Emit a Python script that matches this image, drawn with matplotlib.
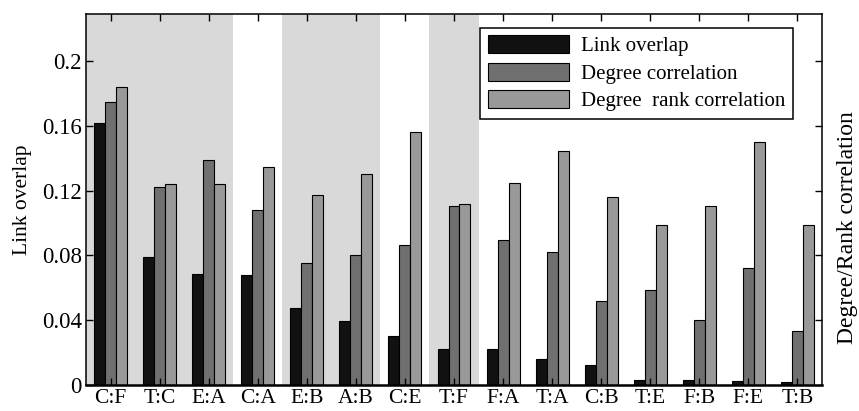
import matplotlib
matplotlib.use("Agg")
import matplotlib.pyplot as plt
import numpy as np

categories = ["C:F", "T:C", "E:A", "C:A", "E:B", "A:B", "C:E", "T:F",
              "F:A", "T:A", "C:B", "T:E", "F:B", "F:E", "T:B"]
link_overlap = [0.162, 0.0793, 0.0684, 0.0679, 0.0473, 0.0394, 0.0305, 0.0224,
                0.0224, 0.0158, 0.0123, 0.0032, 0.0028, 0.0024, 0.0016]
degree_corr = [0.1744, 0.1221, 0.1388, 0.1078, 0.075, 0.080, 0.0867, 0.1107,
               0.0898, 0.0822, 0.052, 0.0588, 0.0404, 0.0723, 0.0334]
rank_corr = [0.1837, 0.1242, 0.1242, 0.1347, 0.117, 0.130, 0.1564, 0.1115,
             0.1248, 0.1444, 0.1159, 0.0987, 0.1105, 0.150, 0.099]
shaded = [(0, 2), (4, 5), (7, 7)]  # index ranges of shaded groups
yticks = [0, 0.04, 0.08, 0.12, 0.16, 0.2]
ytick_labels = ["0", "0.04", "0.08", "0.12", "0.16", "0.2"]

plt.rcParams['font.family'] = ['Liberation Serif', 'DejaVu Serif']

W, H = 859, 411
fig = plt.figure(figsize=(W / 100, H / 100), dpi=100)
L, R, T, B = 86, 822, 14, 385
ax = fig.add_axes([L / W, 1 - B / H, (R - L) / W, (B - T) / H])

x = np.arange(len(categories))
w = 0.224
for a, b in shaded:
    ax.axvspan(a - 0.5, b + 0.5, color="#d9d9d9", zorder=0, lw=0)

kw = dict(edgecolor="black", linewidth=0.8, zorder=1)
ax.bar(x - w, link_overlap, w, color="#111111", label="Link overlap", **kw)
ax.bar(x, degree_corr, w, color="#707070", label="Degree correlation", **kw)
ax.bar(x + w, rank_corr, w, color="#999999", label="Degree  rank correlation", **kw)

ax.set_xlim(-0.5, len(categories) - 0.5)
ax.set_ylim(0, 0.229)
ax.set_xticks(x)
ax.set_xticklabels(categories, fontsize=15.5)
ax.set_yticks(yticks)
ax.set_yticklabels(ytick_labels, fontsize=16.5)
ax.tick_params(direction="in", top=True, right=True, length=5, width=1.0)
ax.tick_params(axis="y", pad=3)
ax.tick_params(axis="x", pad=3)
for s in ax.spines.values():
    s.set_linewidth(1.1)
ax.spines["bottom"].set_linewidth(1.8)

ax.set_ylabel("Link overlap", fontsize=15.5, labelpad=7)
fig.text(848 / W, 1 - 228 / H, "Degree/Rank correlation", rotation=90,
         ha="center", va="center", fontsize=17)

leg = ax.legend(loc="upper right", bbox_to_anchor=(1 - 29 / (R - L), 1 - 14 / (B - T)),
                fontsize=15, frameon=True, fancybox=False, framealpha=1,
                edgecolor="black", handlelength=3.9, handleheight=0.95,
                labelspacing=0.3, borderaxespad=0, handletextpad=0.6,
                borderpad=0.35)
leg.get_frame().set_linewidth(1.1)

fig.savefig("out.png", dpi=100)
